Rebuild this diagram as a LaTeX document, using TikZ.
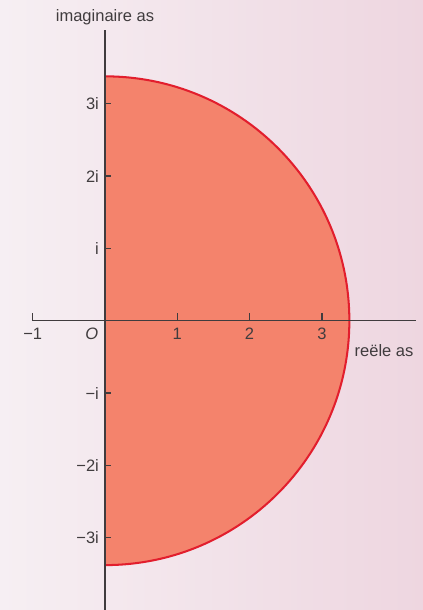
\documentclass[tikz,border=0pt]{standalone}
\usepackage{fontspec}
\setmainfont{Liberation Sans}
\usetikzlibrary{positioning}
\definecolor{bgleft}{RGB}{246,239,243}
\definecolor{bgright}{RGB}{238,214,224}
\definecolor{halfdisc}{RGB}{244,131,108}
\definecolor{rim}{RGB}{226,30,45}
\definecolor{axisgray}{RGB}{64,60,62}

\begin{document}
\begin{tikzpicture}[axis/.style={draw=axisgray, line width=0.6pt},
			tickmark/.style={draw=axisgray, line width=0.5pt},
			axlabel/.style={font=\fontsize{6.5}{7.5}\selectfont, text=axisgray, inner sep=0.5pt}
			]
			\shade[left color=bgleft, right color=bgright] (-1.452,-4.001) rectangle (4.398,4.436);
			\useasboundingbox (-1.452,-4.001) rectangle (4.398,4.436);
			% half disc
			\fill[halfdisc] (0,3.38) arc[start angle=90, end angle=-90, radius=3.38] -- cycle;
			\draw[rim, line width=0.8pt] (0,3.38) arc[start angle=90, end angle=-90, radius=3.38];
			% axes
			\coordinate (xl) at (-1,0);
			\coordinate (xr) at (4.30,0);
			\coordinate (yb) at (0,-4.001);
			\coordinate (yt) at (0,4.02);
			\draw[axis] (xl) -- (xr);
			\draw[axis] (yb) -- (yt);
			% ticks
			\coordinate (tm1) at (-1,0);
			\coordinate (t1) at (1,0);
			\coordinate (t2) at (2,0);
			\coordinate (t3) at (3,0);
			\coordinate (ti) at (0,1);
			\coordinate (t2i) at (0,2);
			\coordinate (t3i) at (0,3);
			\coordinate (tmi) at (0,-1);
			\coordinate (tm2i) at (0,-2);
			\coordinate (tm3i) at (0,-3);
			\draw[tickmark] (tm1) -- ++(0,0.1);
			\draw[tickmark] (t1) -- ++(0,0.1);
			\draw[tickmark] (t2) -- ++(0,0.1);
			\draw[tickmark] (t3) -- ++(0,0.1);
			\draw[tickmark] (ti) -- ++(0.09,0);
			\draw[tickmark] (t2i) -- ++(0.09,0);
			\draw[tickmark] (t3i) -- ++(0.09,0);
			\draw[tickmark] (tmi) -- ++(0.09,0);
			\draw[tickmark] (tm2i) -- ++(0.09,0);
			\draw[tickmark] (tm3i) -- ++(0.09,0);
			% labels
			\node[axlabel](lm1) at (-1,-0.175) {−1};
			\node[axlabel](lo) at (-0.184,-0.175) {\textit{O}};
			\node[axlabel](l1) at (1,-0.175) {1};
			\node[axlabel](l2) at (2,-0.175) {2};
			\node[axlabel](l3) at (3,-0.175) {3};
			\node[axlabel, anchor=east](li) at (-0.06,1) {i};
			\node[axlabel, anchor=east](l2i) at (-0.06,2) {2i};
			\node[axlabel, anchor=east](l3i) at (-0.06,3) {3i};
			\node[axlabel, anchor=east](lmi) at (-0.06,-1) {−i};
			\node[axlabel, anchor=east](lm2i) at (-0.06,-2) {−2i};
			\node[axlabel, anchor=east](lm3i) at (-0.06,-3) {−3i};
			\node[axlabel](imag) at (0,4.20) {imaginaire as};
			\node[axlabel](real) at (3.86,-0.415) {reële as};
		\end{tikzpicture}
\end{document}
